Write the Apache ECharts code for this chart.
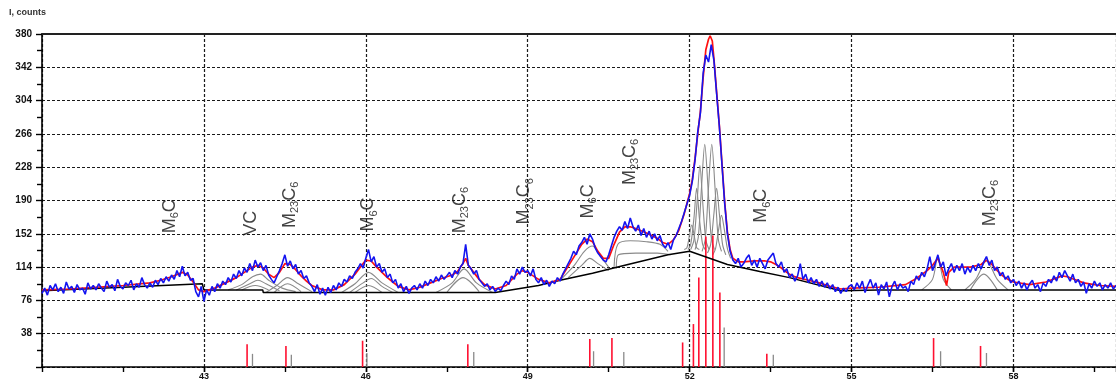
<!DOCTYPE html>
<html>
<head>
<meta charset="utf-8">
<script src="https://cdn.jsdelivr.net/npm/echarts@6/dist/echarts.min.js"></script>
<style>
  html, body { margin: 0; padding: 0; background: #fff; }
  #chart { width: 1116px; height: 383px; }
</style>
</head>
<body>
<div id="chart"></div>
<script>
// Diffraction pattern: measured counts sampled every 0.05 deg from 40.00
const scanStart = 40.0;
const scanStep = 0.05;
const measured = [
  84,90,82,93,88,95,86,91,84,97,89,92,85,94,88,90,83,96,89,93,
  88,95,90,86,98,91,94,87,100,92,89,96,93,99,88,95,91,102,94,90,
  96,91,99,94,101,96,103,98,105,100,110,103,115,104,108,99,101,86,80,92,
  75,88,82,92,86,95,90,98,94,102,97,106,101,110,104,113,108,118,110,122,
  114,119,110,116,105,100,96,103,110,118,128,115,121,112,117,106,110,101,104,96,
  92,86,94,83,90,82,91,85,93,88,96,92,100,97,104,101,108,112,118,113,
  124,134,120,126,114,118,108,112,102,106,96,100,90,95,86,92,84,90,93,88,
  95,90,98,93,100,96,103,98,105,100,104,108,102,110,106,114,118,140,116,112,
  106,110,100,96,92,95,88,92,86,90,87,93,98,94,104,100,112,106,114,108,
  110,104,112,100,96,102,94,99,92,98,95,102,98,106,112,118,124,132,128,138,
  142,148,140,152,146,136,130,126,122,120,128,138,148,155,160,156,166,158,170,160,
  155,162,150,158,148,155,146,152,144,150,140,136,142,134,145,150,158,166,176,186,
  196,212,236,268,290,335,356,348,368,350,312,275,230,186,152,132,122,118,124,114,
  118,124,128,116,122,114,124,118,112,122,126,130,118,114,120,108,112,102,106,98,
  104,118,100,106,96,102,95,100,92,98,91,96,89,94,86,91,84,90,86,92,
  94,88,96,90,98,85,93,100,90,96,82,94,89,97,80,92,98,88,95,90,
  92,86,98,94,104,99,108,103,112,126,110,118,128,114,120,104,112,118,108,116,
  110,118,106,114,108,116,110,118,112,120,126,116,122,110,114,104,108,100,104,96,
  100,93,98,90,96,88,95,99,90,94,86,96,92,100,96,104,98,108,102,110,
  104,98,106,96,100,92,97,84,95,90,98,92,96,88,94,90,96,89,93,90
];

// Fitted profile (2theta, counts)
const fitted = [
  [40.0,88],[40.5,89],[41.0,91],[41.5,93],[42.0,96],[42.2,99],[42.4,103],[42.6,108],[42.7,105],[42.8,97],
  [42.9,88],[43.0,86],[43.2,90],[43.4,96],[43.6,102],[43.8,110],[43.9,114],[44.0,116],[44.1,113],[44.2,106],
  [44.3,102],[44.4,108],[44.5,118],[44.6,117],[44.7,111],[44.8,104],[44.9,98],[45.0,93],[45.2,88],[45.4,88],
  [45.6,94],[45.8,106],[45.9,114],[46.0,122],[46.1,121],[46.2,114],[46.3,108],[46.4,102],[46.5,97],[46.6,92],
  [46.8,88],[47.0,91],[47.2,96],[47.4,101],[47.6,105],[47.7,109],[47.8,118],[47.85,124],[47.9,116],[48.0,108],
  [48.1,100],[48.2,94],[48.4,89],[48.6,93],[48.8,106],[48.9,110],[49.0,108],[49.2,100],[49.4,96],[49.6,100],
  [49.8,120],[49.9,130],[50.0,140],[50.1,146],[50.2,143],[50.3,132],[50.4,124],[50.5,124],[50.6,140],[50.7,154],
  [50.8,160],[50.9,160],[51.0,158],[51.2,153],[51.4,147],[51.5,142],[51.6,140],[51.7,145],[51.8,156],[51.9,175],
  [52.0,198],[52.05,214],[52.1,238],[52.15,266],[52.2,292],[52.25,330],[52.3,362],[52.35,374],[52.38,378],[52.42,372],
  [52.45,352],[52.5,314],[52.55,276],[52.6,232],[52.65,188],[52.7,154],[52.75,134],[52.8,124],[52.9,120],[53.0,120],
  [53.2,121],[53.4,121],[53.5,120],[53.6,117],[53.7,113],[53.8,108],[53.9,104],[54.0,102],[54.2,99],[54.4,96],
  [54.6,92],[54.8,89],[55.0,90],[55.5,91],[56.0,94],[56.2,101],[56.4,110],[56.5,116],[56.6,124],[56.7,108],
  [56.76,93],[56.8,108],[56.9,114],[57.0,114],[57.2,114],[57.4,117],[57.5,122],[57.6,117],[57.7,110],[57.8,104],
  [57.9,100],[58.0,97],[58.3,94],[58.6,97],[58.9,104],[59.0,103],[59.3,96],[59.6,93],[59.9,92]
];

// Background line
const background = [
  [40.0,87],[41.5,91],[42.97,95],[43.0,88],[44.09,88],[44.1,85],[48.4,85],[48.6,87],[48.8,89],[49.2,93],
  [49.6,99],[50.2,107],[50.8,116],[51.6,128],[52.0,132],[52.7,117],[53.3,109],[53.85,102],[54.8,87],[55.5,88],[59.9,88]
];

// Individual fitted peak components
const components = [
  [[43.45,88],[43.7,94],[43.9,103],[44.05,106],[44.2,99],[44.45,90],[44.7,86]],
  [[43.6,88],[43.85,95],[44.0,99],[44.15,95],[44.4,87]],
  [[43.7,88],[43.95,93],[44.2,88]],
  [[44.15,85],[44.35,93],[44.55,102],[44.75,95],[45.0,86]],
  [[44.3,85],[44.55,95],[44.8,86]],
  [[45.55,85],[45.8,95],[46.05,108],[46.3,96],[46.6,85]],
  [[45.7,85],[45.95,96],[46.1,101],[46.3,92],[46.5,85]],
  [[45.8,85],[46.05,93],[46.3,85]],
  [[47.3,85],[47.6,96],[47.82,112],[48.05,96],[48.35,85]],
  [[47.5,85],[47.8,102],[48.1,86]],
  [[49.6,99],[49.85,115],[50.05,132],[50.2,138],[50.35,126],[50.5,114]],
  [[49.75,102],[50.0,116],[50.15,124],[50.3,118],[50.5,110]],
  [[50.6,114],[50.67,140],[50.9,144],[51.2,143],[51.45,140],[51.6,132]],
  [[50.64,112],[50.68,128],[51.0,130],[51.4,130],[51.65,128]],
  [[51.9,134],[51.95,136],[51.99,148],[52.04,162],[52.09,148],[52.13,136],[52.18,134]],
  [[51.97,134],[52.02,140],[52.08,170],[52.13,204],[52.18,170],[52.24,140],[52.29,134]],
  [[52.02,134],[52.08,145],[52.14,190],[52.19,230],[52.24,190],[52.3,145],[52.36,134]],
  [[52.1,134],[52.16,148],[52.22,205],[52.28,254],[52.34,205],[52.4,148],[52.46,134]],
  [[52.23,132],[52.29,146],[52.35,205],[52.41,254],[52.47,205],[52.53,146],[52.59,132]],
  [[52.33,130],[52.39,140],[52.45,175],[52.5,204],[52.55,175],[52.61,140],[52.67,128]],
  [[52.43,128],[52.48,135],[52.54,158],[52.59,173],[52.64,158],[52.7,135],[52.76,124]],
  [[56.3,88],[56.5,100],[56.6,127],[56.7,100],[56.85,88]],
  [[57.1,88],[57.3,100],[57.5,121],[57.7,100],[57.9,88]],
  [[57.2,88],[57.45,106],[57.7,88]]
];

// Reference line positions (2theta, relative height)
const refLinesMain = [
  [43.80,26],[44.52,24],[45.94,30],[47.89,26],[50.15,32],[50.56,33],[51.87,28],[52.07,49],
  [52.17,102],[52.30,149],[52.43,150],[52.56,85],[53.43,15],[56.52,33],[57.39,24]
];
const refLinesMinor = [
  [43.9,15],[44.62,14],[46.02,16],[48.0,17],[50.22,18],[50.78,17],[52.64,45],[53.55,14],[56.65,18],[57.5,16]
];

// Phase annotations
const phaseNames = ['M6C','VC','M23C6','M6C','M23C6','M23C6','M6C','M23C6','M6C','M23C6'];
const phaseX = [42.37, 43.87, 44.59, 46.04, 47.74, 48.94, 50.11, 50.89, 53.33, 57.56];
const phaseY = [172, 164, 185, 174, 179, 189, 189, 234, 184, 187];

const xTickLabels = [43, 46, 49, 52, 55, 58];
const yTickLabels = [38, 76, 114, 152, 190, 228, 266, 304, 342, 380];

const X_MIN = 40, X_MAX = 59.9;

const chart = echarts.init(document.getElementById('chart'), null, { renderer: 'canvas' });

const measuredPts = measured.map((v, i) => [+(scanStart + i * scanStep).toFixed(2), v]);

function phaseRich(name) {
  return name.replace(/([A-Z]+)(\d*)/g, (m, letters, digits) =>
    '{m|' + letters + '}' + (digits ? '{s|' + digits + '}' : ''));
}

function stickSeries(data, color, width) {
  return {
    type: 'custom',
    data: data,
    z: 3,
    renderItem: function (params, api) {
      const p0 = api.coord([api.value(0), 0]);
      const p1 = api.coord([api.value(0), api.value(1)]);
      return {
        type: 'line',
        shape: { x1: p0[0], y1: p0[1], x2: p1[0], y2: p1[1] },
        style: { stroke: color, lineWidth: width }
      };
    }
  };
}

const gridLine = { type: [3, 2], color: '#1a1a1a', width: 1.2 };
const font = 'Liberation Sans, Arial, sans-serif';

const series = [];
components.forEach(c => series.push({
  type: 'line', data: c, symbol: 'none', smooth: 0.3, z: 2,
  lineStyle: { color: '#8a8a8a', width: 1.1 }
}));
series.push(stickSeries(refLinesMain, '#ff1030', 1.6));
series.push(stickSeries(refLinesMinor, '#8a8a8a', 1.3));
series.push({
  type: 'line', data: background, symbol: 'none', z: 4,
  lineStyle: { color: '#000', width: 1.5 }
});
series.push({
  type: 'line', data: fitted, symbol: 'none', z: 5,
  lineStyle: { color: '#ff1010', width: 1.7 }
});
series.push({
  type: 'line', data: measuredPts, symbol: 'none', z: 6,
  lineStyle: { color: '#1414f0', width: 1.6 }
});
series.push({
  type: 'scatter', z: 8,
  data: phaseX.map((x, i) => [x, phaseY[i], phaseNames[i]]),
  symbolSize: 1,
  itemStyle: { color: 'transparent' },
  label: {
    show: true,
    position: 'inside',
    rotate: 90,
    align: 'center',
    verticalAlign: 'middle',
    formatter: p => phaseRich(p.value[2]),
    rich: {
      m: { fontFamily: font, fontSize: 18, color: '#111', lineHeight: 22, verticalAlign: 'middle' },
      s: { fontFamily: font, fontSize: 11, color: '#111', lineHeight: 22, verticalAlign: 'bottom', padding: [9, 0, 0, 0] }
    }
  }
});

chart.setOption({
  animation: false,
  backgroundColor: '#fff',
  title: {
    text: 'I, counts', left: 4, top: 3,
    textStyle: { fontSize: 9, fontWeight: 'bold', color: '#333', fontFamily: font }
  },
  grid: { left: 42, top: 34, right: 0, bottom: 16, containLabel: false },
  xAxis: [{
    // major ticks, labels and vertical grid lines
    type: 'value', min: X_MIN, max: X_MAX, interval: 3, position: 'bottom',
    axisLine: { show: true, onZero: false, lineStyle: { color: '#000', width: 1.6 } },
    axisTick: { show: true, length: 5, lineStyle: { color: '#000', width: 1.4 } },
    splitLine: { show: true, lineStyle: gridLine },
    axisLabel: {
      margin: 5, fontSize: 9, fontWeight: 'bold', color: '#111', fontFamily: font,
      showMinLabel: false, showMaxLabel: false,
      formatter: v => xTickLabels.indexOf(v) >= 0 ? String(v) : ''
    }
  }, {
    // top frame line
    type: 'value', position: 'top', min: X_MIN, max: X_MAX,
    axisLine: { show: true, onZero: false, lineStyle: { color: '#222', width: 2 } },
    axisTick: { show: false }, axisLabel: { show: false }, splitLine: { show: false }
  }, {
    // intermediate ticks every 1.5 deg
    type: 'value', position: 'bottom', offset: 0, min: X_MIN, max: X_MAX, interval: 1.5,
    axisLine: { show: false, onZero: false },
    axisTick: { show: true, length: 5, lineStyle: { color: '#000', width: 1.4 } },
    axisLabel: { show: false }, splitLine: { show: false }
  }],
  yAxis: {
    type: 'value', min: 0, max: 380, interval: 38,
    axisLine: { show: true, onZero: false, lineStyle: { color: '#000', width: 1.6 } },
    axisTick: { show: true, length: 6, lineStyle: { color: '#000', width: 1.4 } },
    minorTick: { show: true, splitNumber: 2, length: 5, lineStyle: { color: '#000', width: 1.4 } },
    splitLine: { show: true, lineStyle: gridLine },
    axisLabel: {
      margin: 10, fontSize: 10, fontWeight: 'bold', color: '#111', fontFamily: font,
      formatter: v => yTickLabels.indexOf(v) >= 0 ? String(v) : ''
    }
  },
  series: series
});
</script>
</body>
</html>
